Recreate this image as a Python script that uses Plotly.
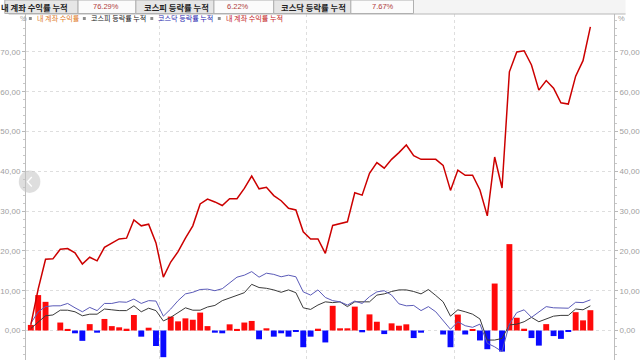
import plotly.graph_objects as go

# ---------------- data ----------------
idx = list(range(77))

account_cum = [1.4, 10.4, 17.9, 18.0, 20.4, 20.6, 19.5, 16.7, 18.4, 17.5,
               20.9, 21.9, 23.0, 23.2, 27.8, 26.3, 26.7, 22.0, 13.4, 17.2,
               19.8, 23.2, 26.3, 31.8, 33.0, 32.3, 31.4, 33.1, 33.1, 35.7,
               38.8, 35.6, 36.0, 33.9, 32.6, 30.7, 30.3, 24.8, 23.0, 23.0,
               19.4, 26.4, 26.9, 27.3, 34.6, 34.0, 39.5, 42.2, 40.8, 43.0,
               44.7, 46.6, 43.9, 43.0, 43.0, 43.0, 41.5, 35.2, 40.3, 39.0,
               39.0, 35.3, 28.8, 43.6, 35.8, 65.0, 70.0, 70.3, 66.7, 60.4,
               62.8, 60.9, 57.2, 56.9, 63.9, 67.8, 76.3]

account_daily = [1.4, 8.9, 7.2, 0.0, 2.0, 0.4, -0.7, -2.6, 1.6, -0.55,
                 2.9, 1.1, 0.8, 0.45, 3.9, -1.55, 0.7, -3.9, -6.7, 3.5,
                 2.3, 3.05, 2.7, 4.5, 1.1, -0.55, -0.7, 1.55, 0.4, 2.0,
                 2.4, -2.2, 0.55, -1.55, -0.7, -1.55, -0.3, -4.2, -1.55, 0.45,
                 -3.0, 6.2, 0.55, 0.55, 6.0, -0.45, 4.05, 2.2, -0.9, 1.8,
                 1.2, 1.55, -1.9, -0.55, 0.0, 0.0, -1.0, -4.2, 4.0, -1.0,
                 0.2, -2.5, -4.7, 11.8, -5.3, 21.7, 3.2, 0.45, -1.9, -3.8,
                 1.6, -1.4, -2.1, -0.3, 4.6, 2.55, 5.1]

kospi_cum = [0.5, 2.2, 3.7, 3.9, 5.1, 5.1, 4.7, 3.7, 4.1, 4.1,
             5.4, 5.2, 5.0, 5.0, 6.2, 4.7, 5.6, 5.0, 2.4, 3.3,
             4.5, 5.7, 5.1, 5.1, 5.9, 6.3, 7.5, 8.1, 8.7, 9.5,
             11.6, 10.8, 10.6, 10.2, 9.6, 10.2, 9.5, 5.7, 5.3, 6.4,
             7.2, 7.0, 7.2, 6.0, 7.2, 7.2, 7.2, 8.9, 9.2, 9.8,
             10.2, 10.2, 9.8, 9.2, 10.3, 8.8, 7.2, 3.6, 5.2, 4.7,
             4.1, 2.9, -2.4, -2.4, -2.0, 1.4, 1.6, 2.2, 3.3, 2.2,
             3.0, 3.6, 3.8, 3.8, 5.4, 5.2, 6.2]

kosdaq_cum = [1.8, 4.7, 6.0, 6.2, 6.2, 6.8, 5.7, 4.7, 5.8, 5.0,
              6.8, 6.8, 7.2, 7.1, 7.9, 6.8, 7.5, 7.4, 3.6, 5.4,
              7.5, 9.2, 9.6, 10.3, 10.4, 10.0, 10.5, 12.0, 13.4, 13.9,
              14.8, 13.4, 14.4, 14.1, 13.5, 13.9, 13.5, 9.7, 8.9, 10.2,
              8.3, 7.5, 7.2, 6.4, 7.4, 6.8, 8.5, 9.7, 10.0, 8.9,
              6.7, 6.2, 6.3, 5.0, 6.0, 4.7, 2.6, 0.3, 2.2, 1.2,
              0.8, 1.6, -3.2, -4.1, -5.3, 1.6, 4.5, 5.2, 3.3, 4.7,
              6.0, 5.7, 5.6, 5.6, 7.1, 7.0, 7.7]

ytick_vals = [0, 10, 20, 30, 40, 50, 60, 70]
ytick_text = ["0,00", "10,00", "20,00", "30,00", "40,00", "50,00", "60,00", "70,00"]
xgrid_vals = [17.5, 37.5, 57.5]

header_labels = ["내 계좌 수익률 누적", "코스피 등락률 누적", "코스닥 등락률 누적"]
header_values = ["76.29%", "6.22%", "7.67%"]
legend_labels = ["내 계좌 수익률", "코스피 등락률 누적", "코스닥 등락률 누적", "내 계좌 수익률 누적"]

# ---------------- layout helpers ----------------
W, H = 640, 360
L, R, T, B = 18, 628, 14, 360


def px(x):
    return (x - L) / (R - L)


def py(y):
    return (B - y) / (B - T)


KR = "Noto Sans CJK KR, sans-serif"
NUM = "Liberation Sans, Arial, sans-serif"

bar_colors = ["#ff0a0a" if v >= 0 else "#0a0aff" for v in account_daily]

fig = go.Figure()
fig.add_trace(go.Bar(x=idx, y=account_daily, marker=dict(color=bar_colors, line=dict(width=0)),
                     width=0.8, showlegend=False, hoverinfo="skip"))
fig.add_trace(go.Scatter(x=idx, y=kospi_cum, mode="lines", line=dict(color="#3a3a3a", width=1),
                         showlegend=False, hoverinfo="skip"))
fig.add_trace(go.Scatter(x=idx, y=kosdaq_cum, mode="lines", line=dict(color="#5a5ab8", width=1),
                         showlegend=False, hoverinfo="skip"))
fig.add_trace(go.Scatter(x=idx, y=account_cum, mode="lines", line=dict(color="#cc0000", width=1.5),
                         showlegend=False, hoverinfo="skip"))
# invisible trace to activate the right-hand axis
fig.add_trace(go.Scatter(x=idx, y=account_cum, yaxis="y2", mode="lines", line=dict(width=0),
                         opacity=0, showlegend=False, hoverinfo="skip"))

x0 = -(23 - L) / 7.638
x1 = 76 + (R - 603.5) / 7.638
ytop = (330.5 - T) / 3.98
ybot = ytop - (B - T) / 3.98

axis_common = dict(
    range=[ybot, ytop], tickvals=ytick_vals, ticktext=ytick_text,
    ticks="outside", ticklen=3, tickcolor="#b8b8b8", tickwidth=1,
    showline=True, linecolor="#bdbdbd", linewidth=1,
    tickfont=dict(family=NUM, size=8, color="#a0a0a0"),
    minor=dict(dtick=2, ticks="outside", ticklen=2, tickcolor="#c8c8c8", showgrid=False),
    zeroline=False, fixedrange=True,
)

fig.update_layout(
    width=W, height=H,
    margin=dict(l=L, r=W - R, t=T, b=0),
    paper_bgcolor="white", plot_bgcolor="white",
    bargap=0.2,
    xaxis=dict(range=[x0, x1], tickvals=xgrid_vals, showticklabels=False, ticks="",
               showgrid=True, gridcolor="#dedede", griddash="dot", gridwidth=1,
               zeroline=False, showline=False),
    yaxis=dict(side="left", showgrid=True, gridcolor="#dedede", griddash="dot", gridwidth=1,
               **axis_common),
    yaxis2=dict(side="right", overlaying="y", showgrid=False, **axis_common),
)

shapes = []
annotations = []

# header strip
shapes.append(dict(type="rect", xref="paper", yref="paper", x0=px(0), x1=px(640), y0=py(14), y1=py(0),
                   fillcolor="#f4f4f4", line=dict(width=0), layer="above"))
shapes.append(dict(type="line", xref="paper", yref="paper", x0=px(0), x1=px(640), y0=py(14), y1=py(14),
                   line=dict(color="#b8b8b8", width=1), layer="above"))
cells = [(-4, 72), (72, 132), (132, 213), (213, 275), (275, 355), (355, 420)]
for k, (a, b) in enumerate(cells):
    fill = "#e6e6e6" if k % 2 == 0 else "#fbfbfb"
    shapes.append(dict(type="rect", xref="paper", yref="paper", x0=px(a), x1=px(b), y0=py(13.5), y1=py(0),
                       fillcolor=fill, line=dict(color="#b0b0b0", width=1), layer="above"))

label_centers = [27, 174, 316.5]
value_centers = [101, 238, 388]
for lab, c in zip(header_labels, label_centers):
    annotations.append(dict(xref="paper", yref="paper", x=px(c), y=py(7), text="<b>" + lab + "</b>",
                            showarrow=False, xanchor="center", yanchor="middle",
                            font=dict(family=KR, size=8.3, color="#222222")))
for val, c in zip(header_values, value_centers):
    annotations.append(dict(xref="paper", yref="paper", x=px(c), y=py(7), text=val,
                            showarrow=False, xanchor="center", yanchor="middle",
                            font=dict(family=NUM, size=7.5, color="#b04040")))

# legend row
annotations.append(dict(xref="paper", yref="paper", x=px(9.5), y=py(18.5), text="%", showarrow=False,
                        xanchor="left", yanchor="middle", font=dict(family=NUM, size=7.5, color="#a0a0a0")))
annotations.append(dict(xref="paper", yref="paper", x=px(630.5), y=py(18.5), text="%", showarrow=False,
                        xanchor="left", yanchor="middle", font=dict(family=NUM, size=7.5, color="#a0a0a0")))
legend_colors = ["#e07b1f", "#222222", "#2b2bb0", "#c41e1e"]
legend_x = [27, 83, 153, 223]
for lab, col, lx in zip(legend_labels, legend_colors, legend_x):
    shapes.append(dict(type="rect", xref="paper", yref="paper", x0=px(lx - 6), x1=px(lx - 3),
                       y0=py(20), y1=py(17), fillcolor="#8c8c8c", line=dict(width=0), layer="above"))
    annotations.append(dict(xref="paper", yref="paper", x=px(lx), y=py(18.5), text=lab, showarrow=False,
                            xanchor="left", yanchor="middle", font=dict(family=KR, size=7.1, color=col)))

# carousel arrow overlay
cx, cy, r = 21.7, 181.7, 11.2
shapes.append(dict(type="circle", xref="paper", yref="paper", x0=px(cx - r), x1=px(cx + r),
                   y0=py(cy + r), y1=py(cy - r), fillcolor="rgba(195,195,195,0.55)",
                   line=dict(width=0), layer="above"))
shapes.append(dict(type="path", xref="paper", yref="paper",
                   path="M {} {} L {} {} L {} {}".format(px(24), py(177), px(19.5), py(181.7), px(24), py(186.5)),
                   line=dict(color="white", width=1.3), layer="above"))

fig.update_layout(shapes=shapes, annotations=annotations)

fig.write_html("out.html")
